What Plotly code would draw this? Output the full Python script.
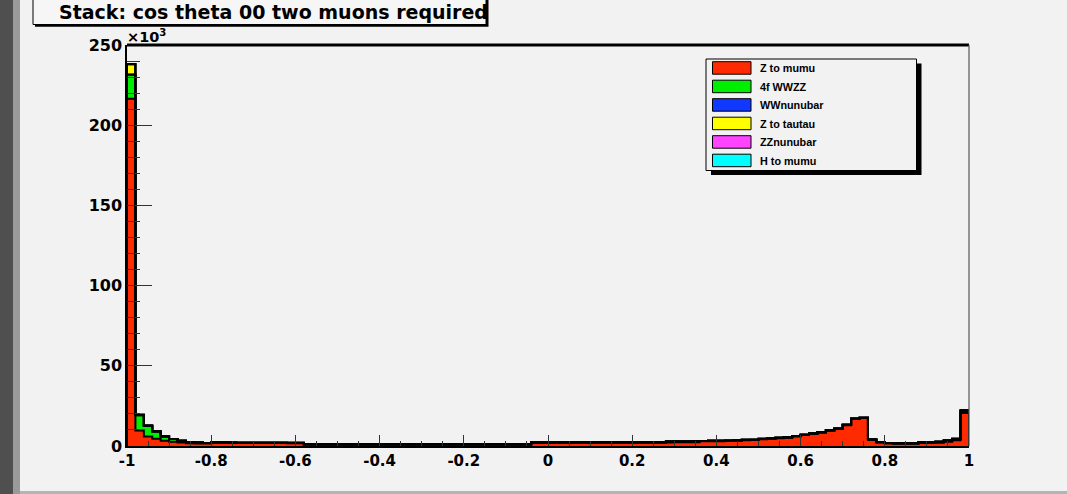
import numpy as np
import plotly.graph_objects as go

# ---------------- data (values in units of 10^3 events) ----------------
x_min, x_max, n_bins = -1.0, 1.0, 100

series_names = ["Z to mumu", "4f WWZZ", "WWnunubar", "Z to tautau", "ZZnunubar", "H to mumu"]
series_colors = ["#ff2a00", "#00ee00", "#1038ff", "#ffff00", "#ff44ff", "#00ffff"]

z_mumu = [
    216.5, 9.7, 6.0, 4.5, 3.3, 2.6, 2.2, 1.7, 1.6, 1.5,
    2.0, 1.9, 1.9, 1.8, 1.8, 1.8, 1.8, 1.8, 1.8, 1.7,
    1.7, 0.9, 0.9, 0.9, 0.9, 0.9, 0.9, 0.9, 0.9, 0.9,
    0.9, 0.9, 0.9, 0.9, 0.9, 0.9, 0.9, 0.9, 0.9, 0.9,
    0.9, 0.9, 0.9, 0.9, 0.9, 0.9, 0.9, 0.9, 2.1, 2.1,
    2.1, 2.1, 2.1, 2.2, 2.2, 2.2, 2.2, 2.2, 2.2, 2.2,
    2.2, 2.2, 2.2, 2.2, 2.2, 2.3, 2.3, 2.4, 2.9, 3.0,
    3.0, 3.1, 3.2, 3.6, 3.7, 4.2, 4.4, 4.9, 5.2, 6.0,
    6.8, 7.6, 8.4, 9.6, 10.6, 13.0, 16.8, 17.4, 3.8, 2.2,
    1.6, 1.5, 1.5, 1.5, 1.8, 1.9, 2.0, 2.6, 3.6, 20.6,
]
wwzz_4f = [
    15.0, 9.5, 6.5, 4.5, 2.6, 1.7, 1.0, 0.7, 0.5, 0.3,
    0.3, 0.3, 0.2, 0.2, 0.2, 0.2, 0.2, 0.2, 0.2, 0.2,
    0.2, 0.2, 0.1, 0.1, 0.1, 0.1, 0.1, 0.1, 0.1, 0.1,
    0.1, 0.1, 0.1, 0.1, 0.1, 0.1, 0.1, 0.1, 0.1, 0.1,
    0.1, 0.1, 0.1, 0.1, 0.1, 0.1, 0.1, 0.1, 0.1, 0.1,
    0.1, 0.1, 0.1, 0.1, 0.1, 0.1, 0.1, 0.1, 0.1, 0.1,
    0.1, 0.1, 0.1, 0.1, 0.5, 0.5, 0.5, 0.5, 0.2, 0.2,
    0.2, 0.2, 0.2, 0.2, 0.2, 0.2, 0.2, 0.2, 0.2, 0.2,
    0.2, 0.2, 0.2, 0.2, 0.2, 0.2, 0.2, 0.2, 0.2, 0.2,
    0.2, 0.2, 0.2, 0.2, 0.6, 0.6, 0.6, 0.8, 0.8, 0.8,
]
ww_nunubar = [
    0.05, 0.04, 0.04, 0.04, 0.03, 0.03, 0.03, 0.03, 0.03, 0.03,
    0.03, 0.03, 0.03, 0.03, 0.03, 0.03, 0.03, 0.03, 0.03, 0.03,
    0.03, 0.03, 0.03, 0.03, 0.03, 0.03, 0.03, 0.03, 0.03, 0.03,
    0.03, 0.03, 0.03, 0.03, 0.03, 0.03, 0.03, 0.03, 0.03, 0.03,
    0.03, 0.03, 0.03, 0.03, 0.03, 0.03, 0.03, 0.03, 0.03, 0.03,
    0.03, 0.03, 0.03, 0.03, 0.03, 0.03, 0.03, 0.03, 0.03, 0.03,
    0.03, 0.03, 0.03, 0.03, 0.03, 0.03, 0.03, 0.03, 0.03, 0.03,
    0.03, 0.03, 0.03, 0.03, 0.03, 0.03, 0.03, 0.03, 0.03, 0.03,
    0.03, 0.03, 0.03, 0.03, 0.03, 0.03, 0.03, 0.03, 0.03, 0.03,
    0.03, 0.03, 0.03, 0.03, 0.03, 0.03, 0.03, 0.04, 0.04, 0.40,
]
z_tautau = [
    6.5, 0.3, 0.2, 0.1, 0.1, 0.05, 0.05, 0.05, 0.04, 0.04,
    0.04, 0.04, 0.03, 0.03, 0.03, 0.03, 0.03, 0.03, 0.03, 0.03,
    0.03, 0.02, 0.02, 0.02, 0.02, 0.02, 0.02, 0.02, 0.02, 0.02,
    0.02, 0.02, 0.02, 0.02, 0.02, 0.02, 0.02, 0.02, 0.02, 0.02,
    0.02, 0.02, 0.02, 0.02, 0.02, 0.02, 0.02, 0.02, 0.02, 0.02,
    0.02, 0.02, 0.02, 0.02, 0.02, 0.02, 0.02, 0.02, 0.02, 0.02,
    0.02, 0.02, 0.02, 0.02, 0.02, 0.02, 0.02, 0.02, 0.02, 0.02,
    0.02, 0.02, 0.02, 0.02, 0.02, 0.02, 0.02, 0.02, 0.02, 0.02,
    0.02, 0.02, 0.02, 0.02, 0.02, 0.03, 0.03, 0.03, 0.02, 0.02,
    0.02, 0.02, 0.02, 0.02, 0.02, 0.02, 0.02, 0.03, 0.03, 0.30,
]
zz_nunubar = [
    0.02, 0.01, 0.01, 0.01, 0.01, 0.01, 0.01, 0.01, 0.01, 0.01,
    0.01, 0.01, 0.01, 0.01, 0.01, 0.01, 0.01, 0.01, 0.01, 0.01,
    0.01, 0.01, 0.01, 0.01, 0.01, 0.01, 0.01, 0.01, 0.01, 0.01,
    0.01, 0.01, 0.01, 0.01, 0.01, 0.01, 0.01, 0.01, 0.01, 0.01,
    0.01, 0.01, 0.01, 0.01, 0.01, 0.01, 0.01, 0.01, 0.01, 0.01,
    0.01, 0.01, 0.01, 0.01, 0.01, 0.01, 0.01, 0.01, 0.01, 0.01,
    0.01, 0.01, 0.01, 0.01, 0.01, 0.01, 0.01, 0.01, 0.01, 0.01,
    0.01, 0.01, 0.01, 0.01, 0.01, 0.01, 0.01, 0.01, 0.01, 0.01,
    0.01, 0.01, 0.01, 0.01, 0.01, 0.01, 0.01, 0.01, 0.01, 0.01,
    0.01, 0.01, 0.01, 0.01, 0.01, 0.01, 0.01, 0.01, 0.01, 0.20,
]
h_mumu = [
    0.01, 0.01, 0.01, 0.01, 0.01, 0.01, 0.01, 0.01, 0.01, 0.01,
    0.01, 0.01, 0.01, 0.01, 0.01, 0.01, 0.01, 0.01, 0.01, 0.01,
    0.01, 0.01, 0.01, 0.01, 0.01, 0.01, 0.01, 0.01, 0.01, 0.01,
    0.01, 0.01, 0.01, 0.01, 0.01, 0.01, 0.01, 0.01, 0.01, 0.01,
    0.01, 0.01, 0.01, 0.01, 0.01, 0.01, 0.01, 0.01, 0.01, 0.01,
    0.01, 0.01, 0.01, 0.01, 0.01, 0.01, 0.01, 0.01, 0.01, 0.01,
    0.01, 0.01, 0.01, 0.01, 0.01, 0.01, 0.01, 0.01, 0.01, 0.01,
    0.01, 0.01, 0.01, 0.01, 0.01, 0.01, 0.01, 0.01, 0.01, 0.01,
    0.01, 0.01, 0.01, 0.01, 0.01, 0.01, 0.01, 0.01, 0.01, 0.01,
    0.01, 0.01, 0.01, 0.01, 0.01, 0.01, 0.01, 0.01, 0.01, 0.20,
]

x_tick_values = [-1.0, -0.8, -0.6, -0.4, -0.2, 0.0, 0.2, 0.4, 0.6, 0.8, 1.0]
x_tick_labels = ["-1", "-0.8", "-0.6", "-0.4", "-0.2", "0", "0.2", "0.4", "0.6", "0.8", "1"]
y_tick_values = [0, 50, 100, 150, 200, 250]
y_tick_labels = ["0", "50", "100", "150", "200", "250"]

title_text = "Stack: cos theta 00 two muons required"
y_exponent_text = "×10<sup>3</sup>"

# ---------------- layout geometry ----------------
FIG_W, FIG_H = 1067, 494
L, R, T, B = 127, 98, 45, 48
W = FIG_W - L - R
H = FIG_H - T - B
BG = "#f2f2f2"


def fx(px):
    return (px - L) / W


def fy(py):
    return (FIG_H - B - py) / H


series_values = [z_mumu, wwzz_4f, ww_nunubar, z_tautau, zz_nunubar, h_mumu]

edges = np.linspace(x_min, x_max, n_bins + 1)
centers = 0.5 * (edges[:-1] + edges[1:])
bin_w = edges[1] - edges[0]

fig = go.Figure()

for name, color, vals in zip(series_names, series_colors, series_values):
    fig.add_trace(go.Bar(
        x=centers, y=vals, width=bin_w, name=name,
        marker=dict(color=color, line=dict(width=0)),
        showlegend=False,
    ))

cum = np.cumsum(np.array(series_values, dtype=float), axis=0)
for level in cum:
    xs = [edges[0]] + list(edges[:-1]) + [edges[-1], edges[-1]]
    ys = [0.0] + list(level) + [level[-1], 0.0]
    fig.add_trace(go.Scatter(
        x=xs, y=ys, mode="lines",
        line=dict(color="black", width=2, shape="hv"),
        hoverinfo="skip", showlegend=False,
    ))

shapes = []
# left dark strip and bottom band of the screenshot page
shapes.append(dict(type="rect", xref="paper", yref="paper",
                   x0=fx(0), x1=fx(13), y0=fy(FIG_H), y1=fy(0),
                   fillcolor="#4f4f4f", line=dict(width=0), layer="below"))
shapes.append(dict(type="rect", xref="paper", yref="paper",
                   x0=fx(13), x1=fx(20), y0=fy(FIG_H), y1=fy(0),
                   fillcolor="#9a9a9a", line=dict(width=0), layer="below"))
shapes.append(dict(type="rect", xref="paper", yref="paper",
                   x0=fx(20), x1=fx(FIG_W), y0=fy(FIG_H), y1=fy(491),
                   fillcolor="#b4b4b4", line=dict(width=0), layer="below"))

# frame: thick top border, thin grey right border
shapes.append(dict(type="line", xref="paper", yref="paper",
                   x0=0, x1=1, y0=1, y1=1, line=dict(color="black", width=3)))
shapes.append(dict(type="line", xref="paper", yref="paper",
                   x0=1, x1=1, y0=0, y1=1, line=dict(color="#555555", width=1.2)))

# title box with shadow
shapes.append(dict(type="rect", xref="paper", yref="paper",
                   x0=fx(35), x1=fx(488.5), y0=fy(26.8), y1=fy(-5),
                   fillcolor="black", line=dict(width=0)))
shapes.append(dict(type="rect", xref="paper", yref="paper",
                   x0=fx(33), x1=fx(486), y0=fy(24.5), y1=fy(-5),
                   fillcolor="#f6f6f6", line=dict(color="black", width=1)))

# legend box with shadow
lg_x0, lg_y0, lg_x1, lg_y1 = 706, 59, 916.5, 170.5
shapes.append(dict(type="rect", xref="paper", yref="paper",
                   x0=fx(lg_x0 + 5), x1=fx(lg_x1 + 5), y0=fy(lg_y1 + 4.5), y1=fy(lg_y0 + 4.5),
                   fillcolor="black", line=dict(width=0)))
shapes.append(dict(type="rect", xref="paper", yref="paper",
                   x0=fx(lg_x0), x1=fx(lg_x1), y0=fy(lg_y1), y1=fy(lg_y0),
                   fillcolor=BG, line=dict(color="black", width=1)))

annotations = []
row_step = 18.5
for i, (name, color) in enumerate(zip(series_names, series_colors)):
    top = 61.7 + row_step * i
    shapes.append(dict(type="rect", xref="paper", yref="paper",
                       x0=fx(712.5), x1=fx(751), y0=fy(top + 12.5), y1=fy(top),
                       fillcolor=color, line=dict(color="black", width=1)))
    annotations.append(dict(
        x=fx(758), y=fy(top + 6.4), xref="paper", yref="paper",
        xanchor="left", yanchor="middle", showarrow=False,
        text="<b>%s</b>" % name,
        font=dict(family="Liberation Sans", size=10.8, color="black"),
    ))

annotations.append(dict(
    x=fx(57), y=fy(12), xref="paper", yref="paper",
    xanchor="left", yanchor="middle", showarrow=False,
    text="<b>%s</b>" % title_text,
    font=dict(family="DejaVu Sans", size=19, color="black"),
))
annotations.append(dict(
    x=fx(125), y=fy(36), xref="paper", yref="paper",
    xanchor="left", yanchor="middle", showarrow=False,
    text="<b>%s</b>" % y_exponent_text,
    font=dict(family="DejaVu Sans", size=14.5, color="black"),
))

fig.update_layout(
    width=FIG_W, height=FIG_H, autosize=False,
    margin=dict(l=L, r=R, t=T, b=B, pad=0),
    paper_bgcolor=BG, plot_bgcolor=BG,
    barmode="stack", bargap=0,
    showlegend=False,
    shapes=shapes, annotations=annotations,
    xaxis=dict(
        range=[x_min, x_max], tickmode="array",
        tickvals=x_tick_values, ticktext=x_tick_labels,
        ticks="inside", ticklen=11, tickwidth=1, tickcolor="#333333",
        minor=dict(ticks="inside", ticklen=5, tickwidth=1, tickcolor="#333333",
                   tick0=-1, dtick=0.05, showgrid=False),
        showgrid=False, zeroline=False,
        showline=True, linecolor="black", linewidth=1.5,
        tickfont=dict(family="DejaVu Sans", size=15, color="black", weight="bold"),
        fixedrange=True,
    ),
    yaxis=dict(
        range=[0, 250], tickmode="array",
        tickvals=y_tick_values, ticktext=y_tick_labels,
        ticks="inside", ticklen=25, tickwidth=1, tickcolor="#333333",
        minor=dict(ticks="inside", ticklen=13, tickwidth=1, tickcolor="#333333",
                   tick0=0, dtick=10, showgrid=False),
        showgrid=False, zeroline=False,
        showline=True, linecolor="black", linewidth=1.5,
        tickfont=dict(family="DejaVu Sans", size=16, color="black", weight="bold"),
        fixedrange=True,
    ),
)

fig.write_html("out.html", config={"displayModeBar": False},
               post_script="document.body.style.margin='0px';")
